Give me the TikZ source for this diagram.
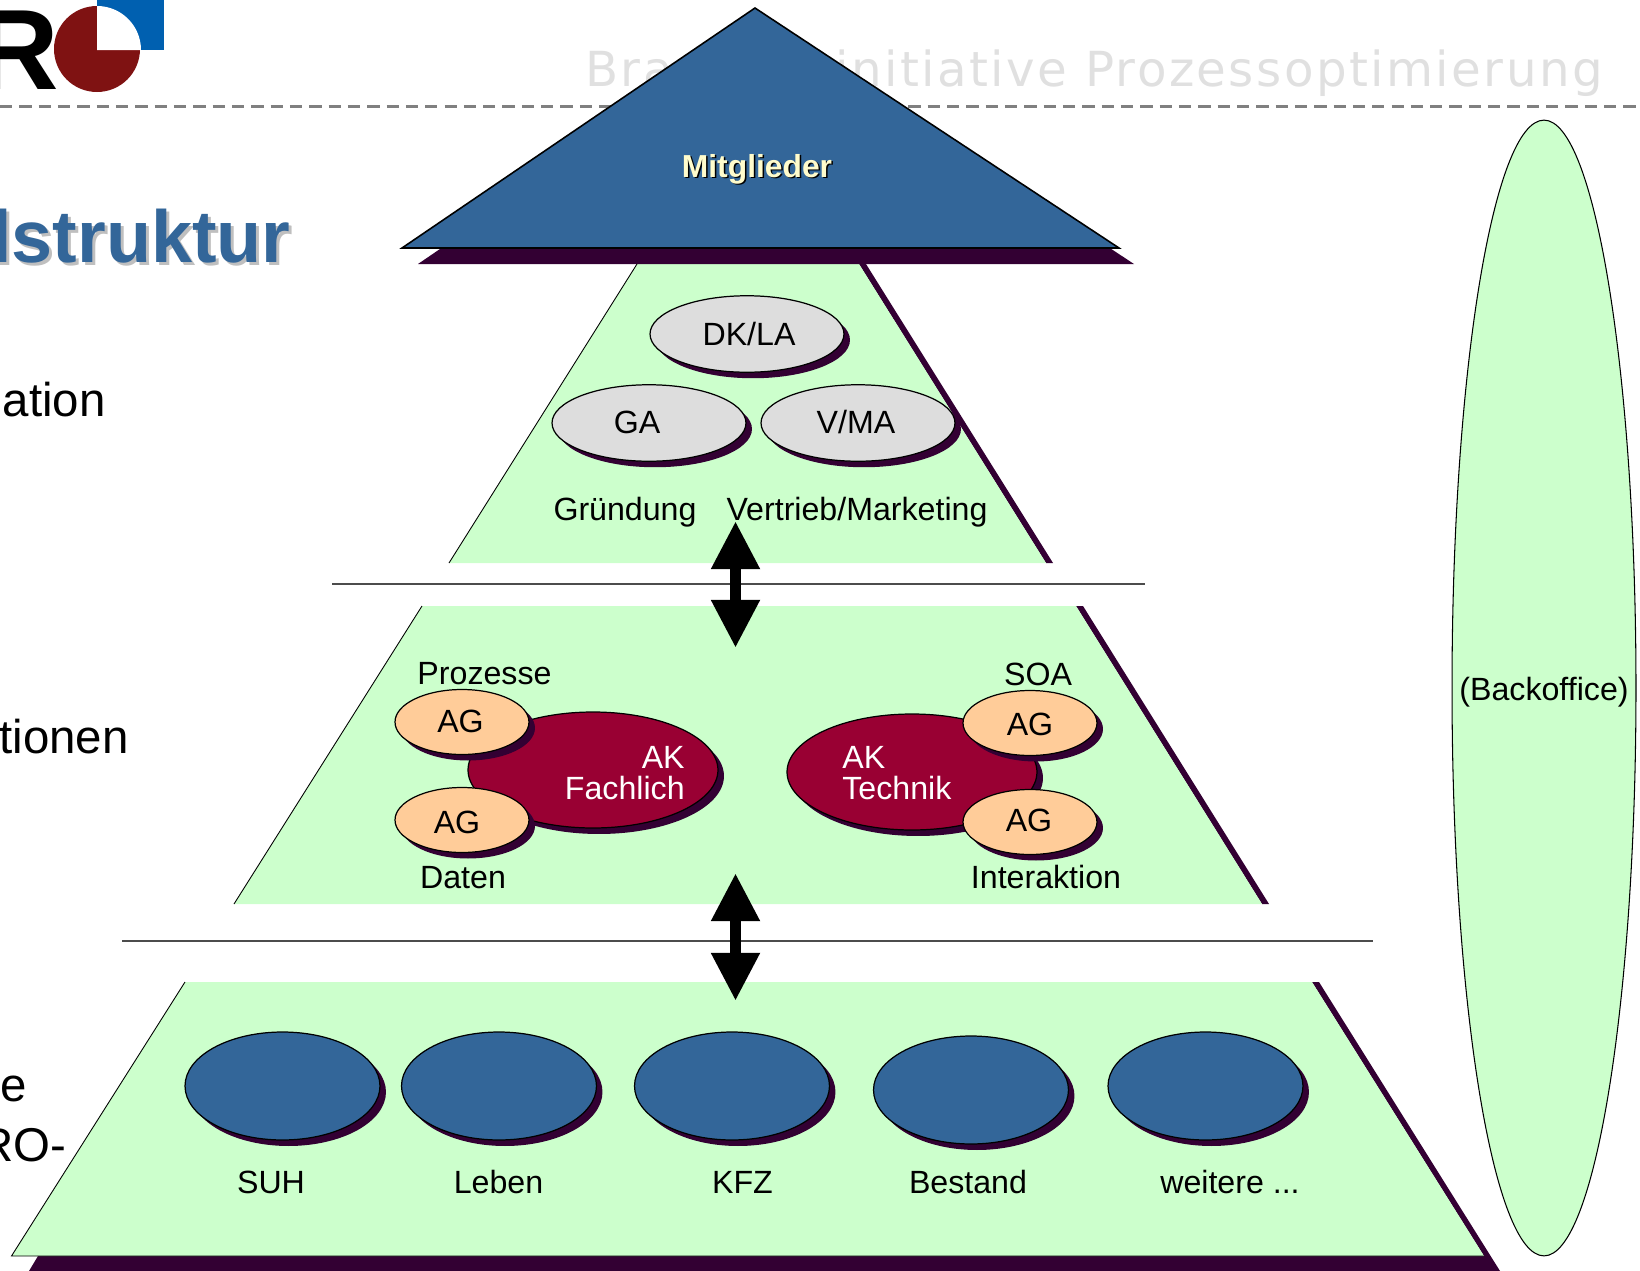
\documentclass[tikz,border=0pt]{standalone}
\usepackage{fontspec}
\setmainfont{Liberation Sans}
\newfontfamily\headfont[LetterSpace=5]{DejaVu Sans}
\usetikzlibrary{arrows.meta,shapes.geometric,shadows}

\definecolor{zonegreen}{HTML}{CCFFCC}
\definecolor{darkshadow}{HTML}{330033}
\definecolor{roleblue}{HTML}{336699}
\definecolor{akred}{HTML}{990033}
\definecolor{agorange}{HTML}{FFCC99}
\definecolor{gremgray}{HTML}{DDDDDD}
\definecolor{logored}{HTML}{7F1212}
\definecolor{logoblue}{HTML}{0060B0}

\tikzset{
    lbl/.style={anchor=base, inner sep=0pt, font=\fontsize{18.3}{20}\selectfont},
    bodytext/.style={anchor=base east, inner sep=0pt, font=\fontsize{27}{30}\selectfont},
    blob/.style={ellipse, draw=black, line width=0.7pt, inner sep=0pt,
        general shadow={fill=darkshadow, shadow xshift=0.12cm, shadow yshift=-0.12cm}},
    gremium/.style={blob, fill=gremgray, minimum width=3.88cm, minimum height=1.53cm},
    ak/.style={blob, fill=akred, minimum width=5cm, minimum height=2.32cm},
    ag/.style={blob, fill=agorange, minimum width=2.68cm, minimum height=1.3cm},
    sparte/.style={blob, fill=roleblue, minimum width=3.9cm, minimum height=2.16cm},
    dblarrow/.style={line width=6.8pt, {Triangle[length=27.4pt,width=26pt]}-{Triangle[length=27.4pt,width=26pt]}},
    zone/.style={fill=zonegreen},
    zoneshadow/.style={fill=darkshadow},
    rim/.style={draw=black, line width=0.5pt}
}

\begin{document}
\begin{tikzpicture}[x=0.02cm,y=-0.02cm]
    \useasboundingbox (0,0) rectangle (1640,1271);

    \draw[gray, line width=1.5pt, dash pattern=on 7pt off 4pt] (0,106.5) -- (1640,106.5);
    \node[anchor=base west, inner sep=0pt, text=black!12, font=\headfont\fontsize{27.5}{30}\selectfont] (kopf) at (585,86) {Brancheninitiative Prozessoptimierung};

    \fill[logored] (97,49) circle[radius=43];
    \fill[logoblue] (97,0) rectangle (164,50);
    \fill[white] (97,50) -- (97,6) arc[start angle=-90,end angle=0,radius=44] -- cycle;
    \node[anchor=base east, inner sep=0pt, font=\bfseries\fontsize{65}{70}\selectfont] (logor) at (59,89) {R};

    \node[anchor=base east, inner sep=0pt, text=black!25, font=\bfseries\fontsize{42}{46}\selectfont] (titelb) at (294,265) {lstruktur};
    \node[anchor=base east, inner sep=0pt, text=roleblue, font=\bfseries\fontsize{42}{46}\selectfont] (titel) at (291,262) {lstruktur};

    \node[bodytext] (t1) at (106,416) {ation};
    \node[bodytext] (t2) at (129,753) {tionen};
    \node[bodytext] (t3) at (27,1101) {e};
    \node[bodytext] (t4) at (67,1161) {RO-};

    \fill[zoneshadow] (859,264) -- (866,264) -- (1053,563) -- (1046,563) -- cycle;
    \fill[zoneshadow] (1076,606) -- (1083,606) -- (1269,904) -- (1262,904) -- cycle;
    \fill[zoneshadow] (38,1256) -- (29,1271) -- (1500,1271) -- (1319,982) -- (1312,982) -- (1484,1256) -- cycle;

    \fill[zone] (637,264) -- (449,563) -- (1046,563) -- (859,264) -- cycle;
    \fill[zone] (422,606) -- (234,904) -- (1262,904) -- (1076,606) -- cycle;
    \fill[zone] (185,982) -- (11.5,1256) -- (1484,1256) -- (1312,982) -- cycle;

    \draw[rim] (637,264) -- (449,563);
    \draw[rim] (422,606) -- (234,904);
    \draw[rim] (185,982) -- (11.5,1256) -- (1484,1256);

    \fill[darkshadow] (770,24) -- (418,264) -- (1134,264) -- cycle;
    \filldraw[fill=roleblue, draw=black, line width=0.9pt] (755,8) -- (402,248) -- (1119,248) -- cycle;
    \node[lbl, text=black, font=\bfseries\fontsize{18.1}{20}\selectfont] (mitgliederb) at (758.5,178.5) {Mitglieder};
    \node[lbl, text=yellow!20, font=\bfseries\fontsize{18.1}{20}\selectfont] (mitglieder) at (757,177) {Mitglieder};

    \node[gremium] (dkla) at (747,334) {};
    \node[gremium] (ga) at (649,423) {};
    \node[gremium] (vma) at (858,423) {};
    \node[lbl] (dklat) at (749,345) {DK/LA};
    \node[lbl] (gat) at (637,433) {GA};
    \node[lbl] (vmat) at (856,433) {V/MA};
    \node[lbl] (gruendung) at (625,520) {Gründung};
    \node[lbl] (vertrieb) at (857,520) {Vertrieb/Marketing};

    \draw[black!70, line width=0.7pt] (332,584) -- (1144.6,584);
    \draw[black!70, line width=0.7pt] (122,941) -- (1373,941);

    \node[ak] (fachlich) at (593,770) {};
    \node[ak] (technik) at (912,772) {};
    \node[ag] (agpro) at (462,722) {};
    \node[ag] (agdat) at (462,820) {};
    \node[ag] (agsoa) at (1030,723) {};
    \node[ag] (agint) at (1030,822) {};
    \node[lbl] (agprot) at (460.5,732) {AG};
    \node[lbl] (agdatt) at (457,833) {AG};
    \node[lbl] (agsoat) at (1030,735) {AG};
    \node[lbl] (agintt) at (1029,831) {AG};
    \node[lbl, anchor=base east, text=white] (akf) at (685,768) {AK};
    \node[lbl, anchor=base east, text=white] (akft) at (685,799) {Fachlich};
    \node[lbl, anchor=base west, text=white] (akt) at (842,768) {AK};
    \node[lbl, anchor=base west, text=white] (aktt) at (842,799) {Technik};
    \node[lbl] (prozesse) at (484.5,684) {Prozesse};
    \node[lbl] (soa) at (1038,685) {SOA};
    \node[lbl] (daten) at (463,888) {Daten};
    \node[lbl] (interaktion) at (1046,888) {Interaktion};

    \coordinate (a1) at (735.5,521);
    \coordinate (a2) at (735.5,648);
    \coordinate (b1) at (735.5,873);
    \coordinate (b2) at (735.5,1001);
    \draw[dblarrow] (a1) -- (a2);
    \draw[dblarrow] (b1) -- (b2);

    \node[sparte] (suh) at (282.5,1086) {};
    \node[sparte] (leben) at (499,1086) {};
    \node[sparte] (kfz) at (732,1086) {};
    \node[sparte] (bestand) at (971,1090) {};
    \node[sparte] (weitere) at (1205.5,1086) {};
    \node[lbl] (suht) at (271,1193) {SUH};
    \node[lbl] (lebent) at (498.5,1193) {Leben};
    \node[lbl] (kfzt) at (742.5,1193) {KFZ};
    \node[lbl] (bestandt) at (968,1193) {Bestand};
    \node[lbl] (weiteret) at (1230,1193) {weitere ...};

    \node[ellipse, draw=black, line width=0.6pt, fill=zonegreen, inner sep=0pt, minimum width=3.68cm, minimum height=22.72cm] (backoffice) at (1544,688) {};
    \node[lbl] (backofficet) at (1544,700) {(Backoffice)};
\end{tikzpicture}
\end{document}
